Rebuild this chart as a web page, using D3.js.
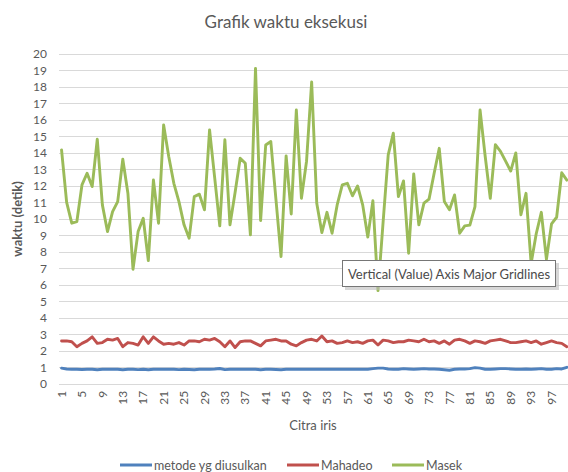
<!DOCTYPE html>
<html><head><meta charset="utf-8">
<script src="https://cdn.jsdelivr.net/npm/d3@7"></script>
<style>
body{margin:0;background:#fff;}
svg{display:block;font-family:Lato,"Open Sans",sans-serif;}
</style></head>
<body><svg id="c" width="568" height="472"></svg>
<script>
const categories = d3.range(1, 101);
const tickLabels = d3.range(1, 101, 4);
const yTicks = d3.range(0, 21, 1);
const seriesNames = ["metode yg diusulkan", "Mahadeo", "Masek"];
const seriesColors = ["#4F81BD", "#C0504D", "#9BBB59"];

const metode = [
0.95,0.9,0.88,0.88,0.87,0.88,0.88,0.85,0.88,0.89,0.88,0.88,0.85,0.88,0.88,0.86,0.88,0.85,0.88,0.88,
0.88,0.88,0.88,0.86,0.88,0.87,0.85,0.88,0.88,0.88,0.9,0.93,0.86,0.88,0.88,0.88,0.88,0.88,0.88,0.85,
0.88,0.88,0.87,0.85,0.88,0.88,0.88,0.88,0.88,0.88,0.88,0.88,0.88,0.88,0.88,0.88,0.88,0.88,0.88,0.88,
0.88,0.92,0.95,0.95,0.9,0.88,0.88,0.92,0.9,0.88,0.9,0.92,0.9,0.9,0.88,0.85,0.82,0.88,0.9,0.9,
0.92,0.98,0.95,0.88,0.88,0.9,0.92,0.92,0.9,0.88,0.88,0.9,0.88,0.9,0.92,0.88,0.88,0.92,0.9,1.0];

const mahadeo = [
2.6,2.6,2.55,2.25,2.45,2.6,2.85,2.45,2.5,2.7,2.65,2.75,2.25,2.5,2.45,2.35,2.85,2.45,2.85,2.6,
2.4,2.45,2.4,2.5,2.35,2.6,2.6,2.55,2.7,2.65,2.75,2.55,2.25,2.6,2.2,2.55,2.6,2.6,2.45,2.3,
2.6,2.65,2.7,2.6,2.6,2.4,2.3,2.5,2.65,2.7,2.6,2.9,2.55,2.6,2.45,2.5,2.6,2.5,2.55,2.45,
2.6,2.65,2.35,2.65,2.6,2.5,2.55,2.55,2.65,2.6,2.55,2.7,2.55,2.6,2.45,2.6,2.4,2.65,2.7,2.6,
2.45,2.6,2.55,2.45,2.6,2.65,2.7,2.6,2.5,2.5,2.55,2.6,2.5,2.6,2.4,2.5,2.6,2.5,2.45,2.25];

const masek = [
14.18,11.0,9.74,9.84,12.06,12.77,11.96,14.83,10.85,9.23,10.44,11.05,13.62,11.56,6.95,9.23,10.04,7.47,12.36,9.74,
15.7,13.78,12.16,11.05,9.64,8.83,11.35,11.5,10.55,15.4,12.5,9.58,14.8,9.64,11.6,13.68,13.37,9.03,19.13,9.9,
14.48,14.69,11.2,7.72,13.82,10.3,16.6,11.25,13.5,18.3,10.95,9.17,10.4,9.13,10.85,12.06,12.16,11.4,12.0,10.85,
8.9,11.1,5.65,9.8,13.88,15.2,11.35,12.3,7.92,12.73,9.64,10.95,11.2,12.77,14.28,11.05,10.55,11.45,9.13,9.58,
9.62,10.75,16.6,13.8,11.25,14.5,14.1,13.5,12.9,14.0,10.25,11.55,7.3,9.1,10.4,7.55,9.7,10.1,12.8,12.35];

const series = [metode, mahadeo, masek];

const svg = d3.select("#c");
const pLeft = 59, pRight = 569.4, pTop = 54, pBottom = 383.8;
const x = d3.scaleBand().domain(categories).range([pLeft, pRight]);
const y = d3.scaleLinear().domain([0, 20]).range([pBottom, pTop]);
const cx = d => x(d) + x.bandwidth() / 2;

// gridlines
svg.append("g").selectAll("line").data(yTicks).join("line")
  .attr("x1", pLeft).attr("x2", 568)
  .attr("y1", d => Math.round(y(d)) + 0.5).attr("y2", d => Math.round(y(d)) + 0.5)
  .attr("stroke", "#D9D9D9").attr("stroke-width", 1);

// y axis labels
const yAxis = d3.axisLeft(y).tickValues(yTicks).tickSize(0).tickPadding(0).tickFormat(d3.format("d"));
const gy = svg.append("g").attr("transform", "translate(47,0)").call(yAxis);
gy.select(".domain").remove();
gy.selectAll("text").attr("fill", "#595959").style("font-size", "12px").style("font-family", "Lato, sans-serif");

// x axis labels
const xAxis = d3.axisBottom(x).tickValues(tickLabels).tickSize(0).tickPadding(0);
const gx = svg.append("g").attr("transform", `translate(0,${pBottom})`).call(xAxis);
gx.select(".domain").remove();
gx.selectAll("text")
  .attr("transform", "rotate(-90)")
  .attr("text-anchor", "end")
  .attr("x", -7).attr("y", 0).attr("dy", "0.35em")
  .attr("fill", "#595959").style("font-size", "12px").style("font-family", "Lato, sans-serif");

// lines
const line = d3.line().x((d, i) => cx(categories[i])).y(d => y(d));
series.forEach((s, k) => {
  svg.append("path").datum(s).attr("d", line)
    .attr("fill", "none").attr("stroke", seriesColors[k])
    .attr("stroke-width", 2.9).attr("stroke-linejoin", "round").attr("stroke-linecap", "round");
});

// title
svg.append("text").attr("x", 286).attr("y", 28).attr("text-anchor", "middle")
  .attr("fill", "#595959").style("font-size", "17px").text("Grafik waktu eksekusi");

// axis titles
svg.append("text").attr("transform", `translate(22,${(pTop + pBottom) / 2}) rotate(-90)`)
  .attr("text-anchor", "middle").attr("fill", "#595959")
  .style("font-size", "13px").style("font-weight", "bold").text("waktu (detik)");
svg.append("text").attr("x", 313).attr("y", 430).attr("text-anchor", "middle")
  .attr("fill", "#595959").style("font-size", "13px").text("Citra iris");

// legend
const legendX = [120, 287, 392];
const lg = svg.append("g");
seriesNames.forEach((n, k) => {
  lg.append("line").attr("x1", legendX[k]).attr("x2", legendX[k] + 32)
    .attr("y1", 465).attr("y2", 465).attr("stroke", seriesColors[k]).attr("stroke-width", 3);
  lg.append("text").attr("x", legendX[k] + 34).attr("y", 470)
    .attr("fill", "#595959").style("font-size", "12.5px").text(n);
});

// tooltip
const tt = svg.append("g");
tt.append("rect").attr("x", 345).attr("y", 263).attr("width", 214).attr("height", 27).attr("fill", "#bdbdbd").attr("opacity", 0.6);
tt.append("rect").attr("x", 342.5).attr("y", 260.5).attr("width", 213).attr("height", 26)
  .attr("fill", "#fff").attr("stroke", "#767676");
tt.append("text").attr("x", 348).attr("y", 279).attr("fill", "#4a4a4a")
  .style("font-size", "13px").text("Vertical (Value) Axis Major Gridlines");
</script></body></html>
